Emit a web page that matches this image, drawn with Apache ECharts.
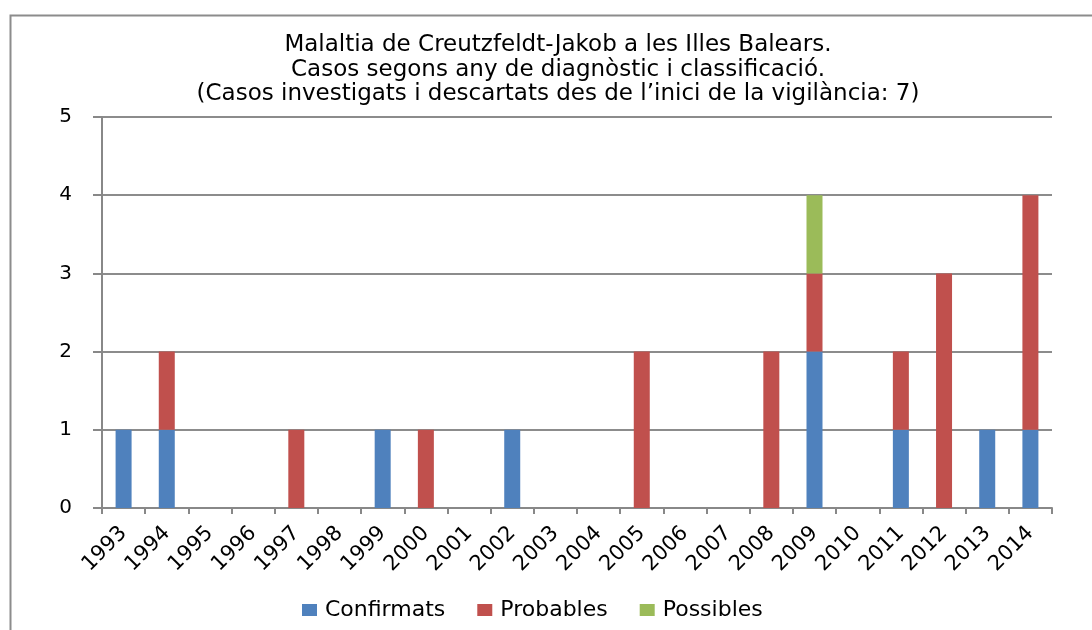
<!DOCTYPE html>
<html>
<head>
<meta charset="utf-8">
<script src="https://cdn.jsdelivr.net/npm/echarts@6/dist/echarts.min.js"></script>
<style>
html,body{margin:0;padding:0;background:#fff;}
#chart{width:1092px;height:630px;}
</style>
</head>
<body>
<div id="chart"></div>
<script>
const years = ['1993','1994','1995','1996','1997','1998','1999','2000','2001','2002','2003','2004','2005','2006','2007','2008','2009','2010','2011','2012','2013','2014'];
const confirmats = [1,1,0,0,0,0,1,0,0,1,0,0,0,0,0,0,2,0,1,0,1,1];
const probables  = [0,1,0,0,1,0,0,1,0,0,0,0,2,0,0,2,1,0,1,3,0,3];
const possibles  = [0,0,0,0,0,0,0,0,0,0,0,0,0,0,0,0,1,0,0,0,0,0];
const yTicks = [0,1,2,3,4,5];

const chart = echarts.init(document.getElementById('chart'));
const barStyle = (c) => ({ color: c, borderWidth: 0 });
chart.setOption({
  animation: false,
  backgroundColor: '#fff',
  graphic: [{
    type: 'rect', left: 8, top: 13, silent: true, z: -1,
    shape: { width: 1200, height: 700 },
    style: { fill: 'none', stroke: '#8c8c8c', lineWidth: 2 }
  }],
  title: {
    text: 'Malaltia de Creutzfeldt-Jakob a les Illes Balears.\nCasos segons any de diagnòstic i classificació.\n(Casos investigats i descartats des de l’inici de la vigilància: 7)',
    left: 553, textAlign: 'center', top: 28,
    textStyle: { fontFamily: 'DejaVu Sans', fontSize: 23, fontWeight: 'normal', color: '#000', lineHeight: 24.5 }
  },
  legend: {
    top: 594, left: 297,
    itemWidth: 15, itemHeight: 12, itemGap: 32,
    icon: 'rect',
    textStyle: { fontFamily: 'DejaVu Sans', fontSize: 22, color: '#000', padding: [0,0,0,3] },
    data: ['Confirmats','Probables','Possibles']
  },
  grid: { left: 102, right: 40, top: 117, bottom: 122 },
  xAxis: {
    type: 'category', data: years,
    axisLine: { lineStyle: { color: '#888', width: 2 } },
    axisTick: { show: true, length: 6, interval: 0, lineStyle: { color: '#888', width: 2 } },
    axisLabel: { rotate: 45, interval: 0, margin: 22, fontFamily: 'DejaVu Sans', fontSize: 21, color: '#000' }
  },
  yAxis: {
    type: 'value', min: 0, max: 5, interval: 1,
    axisLine: { show: true, lineStyle: { color: '#888', width: 2 } },
    axisTick: { show: true, length: 9, lineStyle: { color: '#888', width: 2 } },
    splitLine: { lineStyle: { color: '#8c8c8c', width: 2 } },
    axisLabel: { margin: 30, fontFamily: 'DejaVu Sans', fontSize: 20, color: '#000',
      formatter: (v) => yTicks.includes(v) ? String(v) : '' }
  },
  series: [
    { name: 'Confirmats', type: 'bar', stack: 'a', data: confirmats, barWidth: 16, itemStyle: barStyle('#4F81BD') },
    { name: 'Probables', type: 'bar', stack: 'a', data: probables, barWidth: 16, itemStyle: barStyle('#C0504D') },
    { name: 'Possibles', type: 'bar', stack: 'a', data: possibles, barWidth: 16, itemStyle: barStyle('#9BBB59') }
  ]
});
</script>
</body>
</html>
